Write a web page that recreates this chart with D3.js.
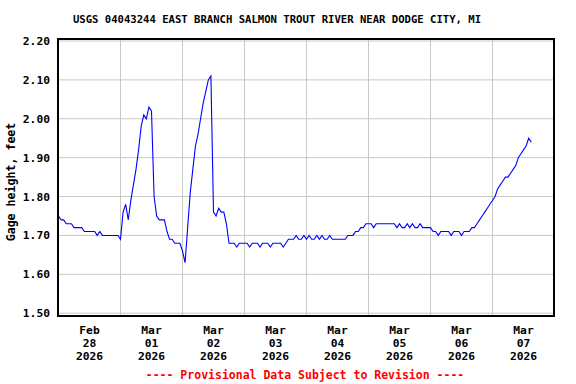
<!DOCTYPE html>
<html>
<head>
<meta charset="utf-8">
<script src="https://cdn.jsdelivr.net/npm/d3@7"></script>
<style>
  html, body { margin: 0; padding: 0; background: #fff; }
  svg { display: block; }
  text { font-family: "DejaVu Sans Mono", "Liberation Mono", monospace; font-weight: bold; }
</style>
</head>
<body>
<svg id="chart" width="576" height="384"></svg>
<script>
// ---- data (hourly gage height readings, feet) ----
const startTime = "2026-02-28T00:00:00";
const feb28 = [1.75,1.74,1.74,1.73,1.73,1.73,1.72,1.72,1.72,1.72,1.71,1.71,1.71,1.71,1.71,1.70,1.71,1.70,1.70,1.70,1.70,1.70,1.70,1.70];
const mar01 = [1.69,1.76,1.78,1.74,1.79,1.83,1.87,1.92,1.98,2.01,2.00,2.03,2.02,1.80,1.75,1.74,1.74,1.74,1.71,1.69,1.69,1.68,1.68,1.68];
const mar02 = [1.66,1.63,1.72,1.81,1.87,1.93,1.96,2.00,2.04,2.07,2.10,2.11,1.76,1.75,1.77,1.76,1.76,1.73,1.68,1.68,1.68,1.67,1.68,1.68];
const mar03 = [1.68,1.68,1.67,1.68,1.68,1.68,1.67,1.68,1.68,1.68,1.67,1.68,1.68,1.68,1.68,1.67,1.68,1.69,1.69,1.69,1.70,1.69,1.69,1.70];
const mar04 = [1.69,1.70,1.69,1.69,1.70,1.69,1.70,1.69,1.69,1.70,1.69,1.69,1.69,1.69,1.69,1.69,1.70,1.70,1.70,1.71,1.71,1.72,1.72,1.73];
const mar05 = [1.73,1.73,1.72,1.73,1.73,1.73,1.73,1.73,1.73,1.73,1.73,1.72,1.73,1.72,1.72,1.73,1.72,1.73,1.72,1.72,1.73,1.72,1.72,1.72];
const mar06 = [1.72,1.71,1.71,1.70,1.71,1.71,1.71,1.71,1.70,1.71,1.71,1.71,1.70,1.71,1.71,1.71,1.72,1.72,1.73,1.74,1.75,1.76,1.77,1.78];
const mar07 = [1.79,1.80,1.82,1.83,1.84,1.85,1.85,1.86,1.87,1.88,1.90,1.91,1.92,1.93,1.95,1.94];

const dayMonths = ["Feb","Mar","Mar","Mar","Mar","Mar","Mar","Mar"];
const dayNumbers = ["28","01","02","03","04","05","06","07"];
const dayYears = ["2026","2026","2026","2026","2026","2026","2026","2026"];
const yTickValues = [1.50,1.60,1.70,1.80,1.90,2.00,2.10,2.20];

const titleText = "USGS 04043244 EAST BRANCH SALMON TROUT RIVER NEAR DODGE CITY, MI";
const yTitle = "Gage height, feet";
const footText = "---- Provisional Data Subject to Revision ----";

// ---- build series ----
const allValues = [].concat(feb28, mar01, mar02, mar03, mar04, mar05, mar06, mar07);
const t0 = new Date(startTime);
const series = allValues.map((v, i) => ({ t: d3.timeHour.offset(t0, i), v }));
const dayStarts = d3.range(0, 9).map(d => d3.timeDay.offset(t0, d));

// ---- layout ----
const svg = d3.select("#chart");
const frame = { left: 58, right: 554, top: 39, bottom: 316 };

const x = d3.scaleTime()
  .domain([dayStarts[0], dayStarts[8]])
  .range([frame.left + 0.5, frame.right + 0.5]);
const y = d3.scaleLinear()
  .domain([1.50, 2.20])
  .range([313.2, 41]);

// grid
const grid = svg.append("g");
grid.selectAll("line.h").data(yTickValues).enter().append("line")
  .attr("x1", frame.left).attr("x2", frame.right)
  .attr("y1", d => y(d)).attr("y2", d => y(d))
  .attr("stroke", "#c8c8c8").attr("stroke-width", 1);
grid.selectAll("line.v").data(dayStarts.slice(1, 8)).enter().append("line")
  .attr("x1", d => x(d)).attr("x2", d => x(d))
  .attr("y1", frame.top).attr("y2", frame.bottom)
  .attr("stroke", "#c8c8c8").attr("stroke-width", 1);

// data line
const line = d3.line()
  .x(d => x(d.t))
  .y(d => y(d.v));
svg.append("path")
  .datum(series)
  .attr("d", line)
  .attr("fill", "none")
  .attr("stroke", "#0000ff")
  .attr("stroke-width", 1.1);

// frame
svg.append("rect")
  .attr("x", frame.left).attr("y", frame.top)
  .attr("width", frame.right - frame.left)
  .attr("height", frame.bottom - frame.top)
  .attr("fill", "none").attr("stroke", "#000").attr("stroke-width", 2);

// y tick labels
svg.append("g").selectAll("text").data(yTickValues).enter().append("text")
  .attr("x", 50).attr("y", d => y(d) + 4)
  .attr("text-anchor", "end")
  .attr("font-size", "11.3px")
  .attr("fill", "#000")
  .text(d => d3.format(".2f")(d));

// x labels (centered on noon of each day)
const xl = svg.append("g");
dayStarts.slice(0, 8).forEach((d, i) => {
  const cx = x(d3.timeHour.offset(d, 12));
  const lines = [dayMonths[i], dayNumbers[i], dayYears[i]];
  const baselines = [334, 347, 360];
  lines.forEach((s, j) => {
    xl.append("text")
      .attr("x", cx).attr("y", baselines[j])
      .attr("text-anchor", "middle")
      .attr("font-size", "11.3px")
      .attr("fill", "#000")
      .text(s);
  });
});

// title
svg.append("text")
  .attr("x", 277).attr("y", 23)
  .attr("text-anchor", "middle")
  .attr("font-size", "10.6px")
  .attr("fill", "#000")
  .text(titleText);

// y axis title
svg.append("text")
  .attr("transform", "translate(15,182) rotate(-90)")
  .attr("text-anchor", "middle")
  .attr("font-size", "11.6px")
  .attr("fill", "#000")
  .text(yTitle);

// footnote
svg.append("text")
  .attr("x", 305).attr("y", 379)
  .attr("text-anchor", "middle")
  .attr("font-size", "11.5px")
  .attr("fill", "#ff0000")
  .text(footText);
</script>
</body>
</html>
